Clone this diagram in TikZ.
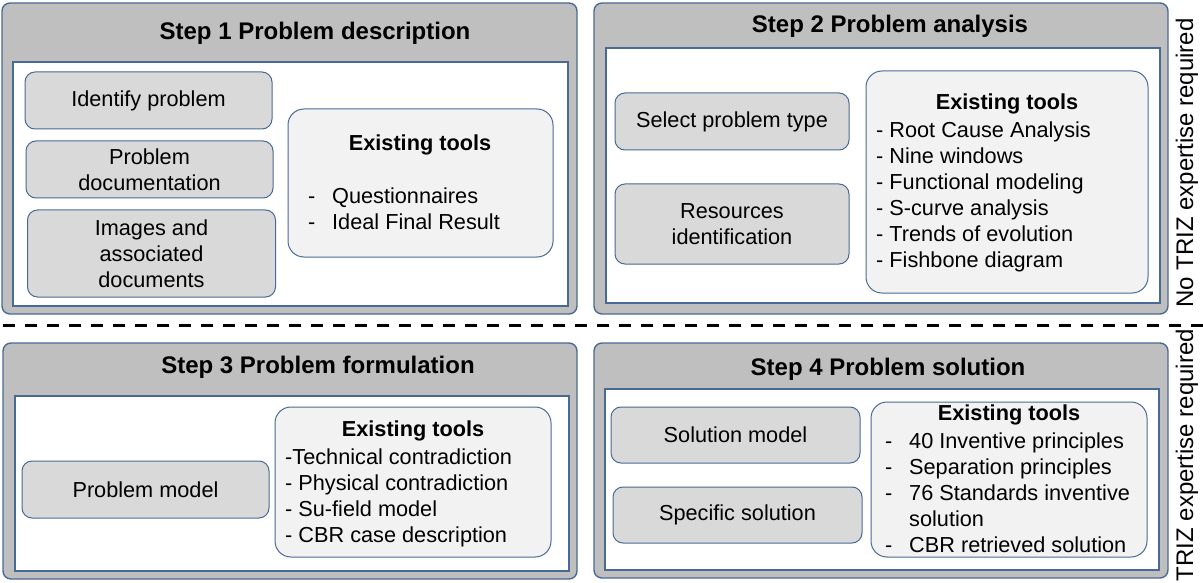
\documentclass[tikz,border=0pt]{standalone}
\usepackage{fontspec}
\setmainfont{Liberation Sans}
\usepackage{tikz}
\usetikzlibrary{positioning}
\definecolor{frameBlue}{RGB}{74,106,150}
\definecolor{frameGray}{RGB}{191,191,191}
\definecolor{taskGray}{RGB}{217,217,217}
\definecolor{toolGray}{RGB}{242,242,242}
\newcommand{\bodyfont}{\fontsize{21.7}{26}\selectfont}
\newcommand{\titlefont}{\fontsize{24}{28}\selectfont\bfseries}
\newcommand{\dashitem}[1]{\makebox[24pt][l]{-}#1}

\begin{document}
\begin{tikzpicture}[x=1pt,y=-1pt,
  stepframe/.style={draw=frameBlue,fill=frameGray,rounded corners=8pt,line width=1.4pt,inner sep=0pt},
  panel/.style={draw=frameBlue,fill=white,line width=1.2pt,inner sep=0pt},
  taskbox/.style={draw=frameBlue,fill=taskGray,rounded corners=10pt,line width=1pt,minimum height=57pt,align=center,inner sep=0pt,font=\bodyfont},
  toolbox/.style={draw=frameBlue,fill=toolGray,rounded corners=16pt,line width=1pt,inner sep=0pt},
  steptitle/.style={font=\titlefont,inner sep=0pt},
  toolhead/.style={font=\bodyfont\bfseries,inner sep=0pt},
  toollist/.style={font=\bodyfont,anchor=base west,inner sep=0pt},
  sidenote/.style={font=\fontsize{24}{28}\selectfont,rotate=90,inner sep=0pt}]
\useasboundingbox (0,0) rectangle (1203,583);
% --- Step 1 ---
\node[stepframe,minimum width=575pt,minimum height=311pt] (s1) at (289.5,158.5) {};
\node[panel,minimum width=555pt,minimum height=244pt] (s1panel) at (290.5,184) {};
\node[steptitle] (s1title) at (315,33) {Step 1 Problem description};
\node[taskbox,minimum width=247pt] (identify) at (148.5,100.5) {Identify problem};
\node[taskbox,minimum width=247pt,below=11pt of identify,xshift=1pt] (probdoc) {Problem\\documentation};
\node[taskbox,minimum width=248pt,minimum height=87pt,below=11pt of probdoc,xshift=2pt] (images) {Images and\\associated\\documents};
\node[toolbox,minimum width=265pt,minimum height=148pt] (s1tools) at (420.5,183) {};
\node[toolhead] (s1head) at (420,145) {Existing tools};
\node[toollist] (s1list) at (308,204) {\begin{tabular}[t]{@{}l@{}}
  \dashitem{Questionnaires}\\
  \dashitem{Ideal Final Result}
\end{tabular}};
% --- Step 2 ---
\node[stepframe,minimum width=574pt,minimum height=311pt] (s2) at (881,158.5) {};
\node[panel,minimum width=554pt,minimum height=255pt] (s2panel) at (883,175.5) {};
\node[steptitle] (s2title) at (890,26) {Step 2 Problem analysis};
\node[taskbox,minimum width=234pt] (selecttype) at (732,121.5) {Select problem type};
\node[taskbox,minimum width=234pt,minimum height=80pt,below=33pt of selecttype] (resources) {Resources\\identification};
\node[toolbox,minimum width=282pt,minimum height=222pt] (s2tools) at (1007,182) {};
\node[toolhead] (s2head) at (1007,104) {Existing tools};
\node[toollist] (s2list) at (876,138) {\begin{tabular}[t]{@{}l@{}}
  - Root Cause Analysis\\
  - Nine windows\\
  - Functional modeling\\
  - S-curve analysis\\
  - Trends of evolution\\
  - Fishbone diagram
\end{tabular}};
% --- divider ---
\coordinate (divleft) at (3,325);
\coordinate (divright) at (1203,325);
\draw[line width=3pt,dash pattern=on 12pt off 10pt] (divleft) -- (divright);
% --- Step 3 ---
\node[stepframe,minimum width=574pt,minimum height=236pt] (s3) at (290,461) {};
\node[panel,minimum width=554pt,minimum height=175pt] (s3panel) at (292,483.5) {};
\node[steptitle] (s3title) at (318,367) {Step 3 Problem formulation};
\node[taskbox,minimum width=247pt] (probmodel) at (145.5,489.5) {Problem model};
\node[toolbox,minimum width=276pt,minimum height=150pt] (s3tools) at (413,482) {};
\node[toolhead] (s3head) at (413,431) {Existing tools};
\node[toollist] (s3list) at (285,464) {\begin{tabular}[t]{@{}l@{}}
  -Technical contradiction\\
  - Physical contradiction\\
  - Su-field model\\
  - CBR case description
\end{tabular}};
% --- Step 4 ---
\node[stepframe,minimum width=574pt,minimum height=235pt] (s4) at (881,460.5) {};
\node[panel,minimum width=554pt,minimum height=181pt] (s4panel) at (882,479.5) {};
\node[steptitle] (s4title) at (888,369) {Step 4 Problem solution};
\node[taskbox,minimum width=249pt,minimum height=56pt] (solmodel) at (735.5,435) {Solution model};
\node[taskbox,minimum width=249pt,minimum height=56pt,below=23pt of solmodel,xshift=2pt] (specific) {Specific solution};
\node[toolbox,minimum width=276pt,minimum height=155pt] (s4tools) at (1009,479.5) {};
\node[toolhead] (s4head) at (1009,415) {Existing tools};
\node[toollist] (s4list) at (885,448) {\begin{tabular}[t]{@{}l@{}}
  \dashitem{40 Inventive principles}\\
  \dashitem{Separation principles}\\
  \dashitem{76 Standards inventive}\\
  \hspace*{24pt}solution\\
  \dashitem{CBR retrieved solution}
\end{tabular}};
% --- side notes ---
\node[sidenote] (noexpert) at (1187,163) {No TRIZ expertise required};
\node[sidenote] (expert) at (1187,455) {TRIZ expertise required};
\end{tikzpicture}
\end{document}
